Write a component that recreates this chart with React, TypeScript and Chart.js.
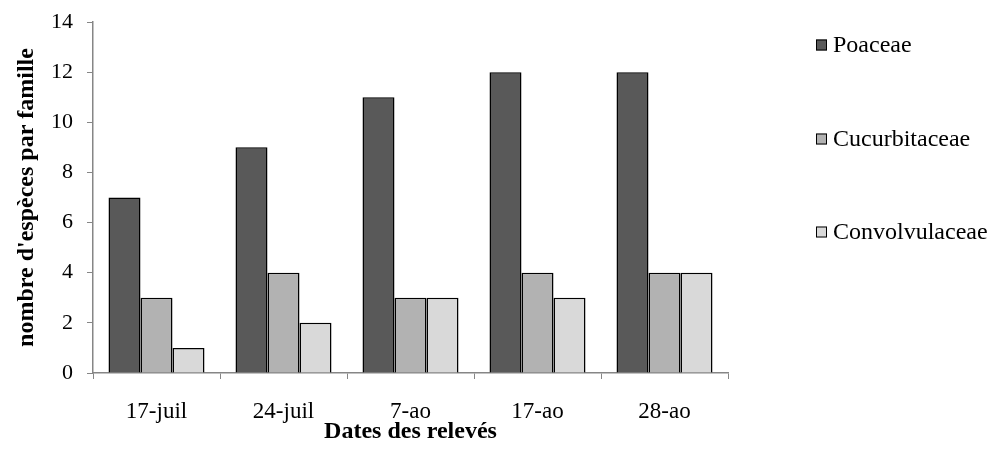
import React, { useEffect, useRef } from "react";
import { Chart, registerables } from "chart.js";

Chart.register(...registerables);

const categories = ["17-juil", "24-juil", "7-ao", "17-ao", "28-ao"];
const poaceae = [7, 9, 11, 12, 12];
const cucurbitaceae = [3, 4, 3, 4, 4];
const convolvulaceae = [1, 2, 3, 3, 4];
const seriesNames = ["Poaceae", "Cucurbitaceae", "Convolvulaceae"];
const seriesColors = ["#595959", "#b2b2b2", "#d9d9d9"];
const yTitle = "nombre d'espèces par famille";
const xTitle = "Dates des relevés";

const FONT = "'Liberation Serif', 'Times New Roman', serif";
const AXIS = "#868686";

const legendPlugin = {
  id: "customLegend",
  afterDraw(chart: any) {
    const ctx = chart.ctx;
    const area = chart.chartArea;
    const x = area.right + 88;
    const ys = [area.top + 23, area.top + 117, area.top + 210];
    ctx.save();
    ctx.font = `24px ${FONT}`;
    ctx.textBaseline = "middle";
    ctx.textAlign = "left";
    seriesNames.forEach((name, i) => {
      const y = ys[i];
      ctx.fillStyle = seriesColors[i];
      ctx.fillRect(x, y - 5.5, 11, 11);
      ctx.strokeStyle = "#000";
      ctx.lineWidth = 1;
      ctx.strokeRect(x + 0.5, y - 5, 10, 10);
      ctx.fillStyle = "#000";
      ctx.fillText(name, x + 17, y + 1);
    });
    ctx.restore();
  },
};

export default function App() {
  const ref = useRef<HTMLCanvasElement>(null);
  useEffect(() => {
    document.body.style.margin = "0";
    const data = [poaceae, cucurbitaceae, convolvulaceae];
    const chart = new Chart(ref.current!, {
      type: "bar",
      data: {
        labels: categories,
        datasets: seriesNames.map((n, i) => ({
          label: n,
          data: data[i],
          backgroundColor: seriesColors[i],
          borderColor: "#000",
          borderWidth: 1.5,
          categoryPercentage: 0.756,
          barPercentage: 1,
        })),
      },
      options: {
        responsive: false,
        animation: false,
        layout: { padding: { top: 22, right: 266, left: 0, bottom: 0 } },
        plugins: { legend: { display: false }, tooltip: { enabled: false } },
        scales: {
          x: {
            grid: {
              drawOnChartArea: false,
              drawTicks: true,
              tickLength: 6,
              color: AXIS,
              offset: true,
            },
            border: { display: true, color: AXIS, width: 1.5 },
            ticks: {
              color: "#000",
              font: { family: FONT, size: 23 },
              padding: 19,
              maxRotation: 0,
            },
            title: {
              display: true,
              text: xTitle,
              color: "#000",
              font: { family: FONT, size: 24, weight: "bold" },
              padding: { top: 0, bottom: 22 },
            },
            afterFit(scale: any) {
              scale.height = 95;
              scale.paddingLeft = 0;
              scale.paddingRight = 0;
            },
          },
          y: {
            min: 0,
            max: 14,
            ticks: {
              stepSize: 2,
              color: "#000",
              font: { family: FONT, size: 22 },
              padding: 14,
            },
            grid: {
              drawOnChartArea: false,
              drawTicks: true,
              tickLength: 6,
              color: AXIS,
            },
            border: { display: true, color: AXIS, width: 1.5 },
            title: {
              display: true,
              text: yTitle,
              color: "#000",
              font: { family: FONT, size: 24, weight: "bold" },
              padding: { top: 12, bottom: 0 },
            },
            afterFit(scale: any) {
              scale.width = 93;
              scale.paddingTop = 0;
              scale.paddingBottom = 0;
            },
          },
        },
      },
      plugins: [legendPlugin],
    });
    return () => chart.destroy();
  }, []);
  return <canvas ref={ref} width={994} height={468} style={{ display: "block" }} />;
}
